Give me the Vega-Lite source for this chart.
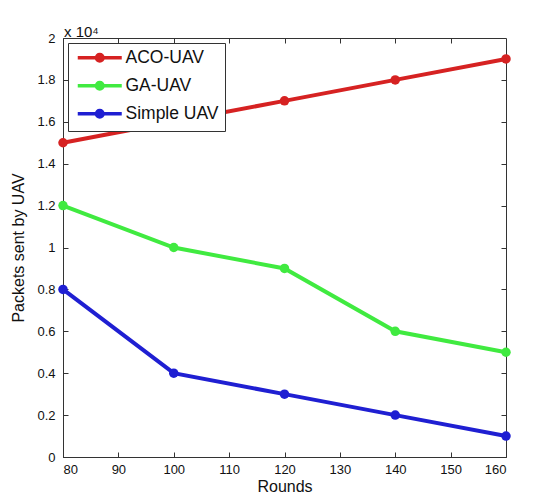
{
  "$schema": "https://vega.github.io/schema/vega-lite/v6.json",
  "width": 443,
  "height": 419,
  "autosize": {"type": "none"},
  "padding": {"left": 63, "top": 38, "right": 33, "bottom": 39},
  "background": "white",
  "config": {
    "font": "Liberation Sans",
    "view": {"stroke": "#333", "strokeWidth": 1},
    "axis": {
      "grid": false,
      "domainColor": "#333",
      "tickColor": "#333",
      "tickSize": -5,
      "labelFont": "Liberation Sans",
      "labelFontSize": 13,
      "labelColor": "#111",
      "titleFont": "Liberation Sans",
      "titleFontSize": 16,
      "titleFontWeight": "normal",
      "titleColor": "#111"
    }
  },
  "title": {
    "text": "x 10⁴",
    "anchor": "start",
    "frame": "group",
    "fontSize": 15,
    "fontWeight": "normal",
    "color": "#111",
    "offset": -8,
    "dx": 1
  },
  "data": {
    "values": [
      {"round": 80, "series": "ACO-UAV", "packets": 15000},
      {"round": 100, "series": "ACO-UAV", "packets": 16000},
      {"round": 120, "series": "ACO-UAV", "packets": 17000},
      {"round": 140, "series": "ACO-UAV", "packets": 18000},
      {"round": 160, "series": "ACO-UAV", "packets": 19000},
      {"round": 80, "series": "GA-UAV", "packets": 12000},
      {"round": 100, "series": "GA-UAV", "packets": 10000},
      {"round": 120, "series": "GA-UAV", "packets": 9000},
      {"round": 140, "series": "GA-UAV", "packets": 6000},
      {"round": 160, "series": "GA-UAV", "packets": 5000},
      {"round": 80, "series": "Simple UAV", "packets": 8000},
      {"round": 100, "series": "Simple UAV", "packets": 4000},
      {"round": 120, "series": "Simple UAV", "packets": 3000},
      {"round": 140, "series": "Simple UAV", "packets": 2000},
      {"round": 160, "series": "Simple UAV", "packets": 1000}
    ]
  },
  "encoding": {
    "color": {
      "field": "series",
      "type": "nominal",
      "scale": {"domain": ["ACO-UAV", "GA-UAV", "Simple UAV"], "range": ["#d62222", "#40ea40", "#1f1fd2"]},
      "legend": {
        "title": null,
        "orient": "top-left",
        "offset": 5,
        "strokeColor": "#333",
        "fillColor": "white",
        "padding": 6,
        "labelFontSize": 17.5,
        "labelColor": "#111",
        "labelFont": "Liberation Sans",
        "symbolType": "M-4,0H4M-0.6,0A0.6,0.6 0 1,0 0.6,0A0.6,0.6 0 1,0 -0.6,0",
        "symbolSize": 121,
        "symbolStrokeWidth": 3.5,
        "symbolOffset": 17,
        "rowPadding": 6,
        "labelOffset": 17
      }
    }
  },
  "layer": [
    {
      "mark": {"type": "line", "strokeWidth": 4},
      "encoding": {
        "x": {
          "field": "round",
          "type": "quantitative",
          "scale": {"domain": [80, 160], "nice": false, "zero": false},
          "axis": {"values": [80, 90, 100, 110, 120, 130, 140, 150, 160], "title": "Rounds", "titlePadding": 2, "labelPadding": 11}
        },
        "y": {
          "field": "packets",
          "type": "quantitative",
          "scale": {"domain": [0, 20000], "nice": false},
          "axis": {
            "values": [0, 2000, 4000, 6000, 8000, 10000, 12000, 14000, 16000, 18000, 20000],
            "labelExpr": "format(datum.value/10000, '.1~f')",
            "title": "Packets sent by UAV",
            "titlePadding": 10,
            "labelPadding": 13
          }
        }
      }
    },
    {
      "mark": {"type": "circle", "size": 90, "opacity": 1},
      "encoding": {
        "x": {
          "field": "round",
          "type": "quantitative",
          "scale": {"domain": [80, 160], "nice": false, "zero": false},
          "axis": {"orient": "top", "values": [90, 100, 110, 120, 130, 140, 150], "labels": false, "title": null, "domain": false}
        },
        "y": {
          "field": "packets",
          "type": "quantitative",
          "scale": {"domain": [0, 20000], "nice": false},
          "axis": {"orient": "right", "values": [2000, 4000, 6000, 8000, 10000, 12000, 14000, 16000, 18000], "labels": false, "title": null, "domain": false}
        }
      }
    }
  ],
  "resolve": {"axis": {"x": "independent", "y": "independent"}}
}
